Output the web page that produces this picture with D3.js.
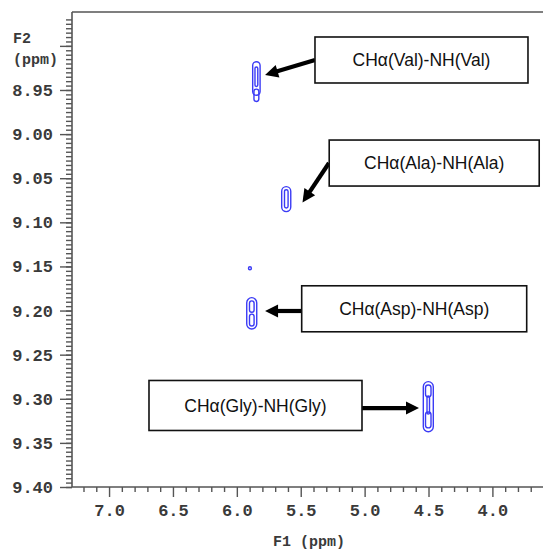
<!DOCTYPE html>
<html>
<head>
<meta charset="utf-8">
<script src="https://cdn.jsdelivr.net/npm/d3@7"></script>
<style>
  html, body { margin: 0; padding: 0; background: #fff; }
  svg { display: block; }
</style>
</head>
<body>
<svg id="chart" width="543" height="550"></svg>
<script>
// ---------------- DATA ----------------
// Axis ranges (ppm)
const f1Domain = [7.29, 3.604];
const f2Domain = [8.8616, 9.40];
const f1MajorTicks = [7.0, 6.5, 6.0, 5.5, 5.0, 4.5, 4.0];
const f1MinorTicks = [7.2, 7.1, 6.9, 6.8, 6.7, 6.6, 6.4, 6.3, 6.2, 6.1, 5.9, 5.8, 5.7, 5.6, 5.4, 5.3, 5.2, 5.1,
                      4.9, 4.8, 4.7, 4.6, 4.4, 4.3, 4.2, 4.1, 3.9, 3.8, 3.7];
const f2MajorTicks = [8.90, 8.95, 9.00, 9.05, 9.10, 9.15, 9.20, 9.25, 9.30, 9.35, 9.40];
const f2TickLabels = ["", "8.95", "9.00", "9.05", "9.10", "9.15", "9.20", "9.25", "9.30", "9.35", "9.40"];
const f2MinorStep = 0.005;
const f2MinorStart = 8.870;

// Contour levels, each a capsule: [F1 left, F1 right, F2 top, F2 bottom] in ppm
const valContours = [
  [5.876, 5.818, 8.918, 8.956],
  [5.866, 5.828, 8.949, 8.963],
  [5.858, 5.836, 8.924, 8.946]
];
const alaContours = [
  [5.649, 5.578, 9.0595, 9.0879],
  [5.627, 5.599, 9.0630, 9.0837]
];
const aspContours = [
  [5.9225, 5.8443, 9.1854, 9.2209],
  [5.901, 5.865, 9.1890, 9.2020],
  [5.901, 5.865, 9.2040, 9.2175]
];
const smallPeak = [
  [5.909, 5.886, 9.1503, 9.1537]
];
const glyContours = [
  [4.5407, 4.4625, 9.2806, 9.3373],
  [4.5235, 4.4804, 9.2844, 9.2980],
  [4.5117, 4.4922, 9.2968, 9.3172],
  [4.5235, 4.4804, 9.3150, 9.3330]
];

// Annotations: label, box centre (ppm), arrow tail and arrow tip (ppm)
const annLabels = ["CHα(Val)-NH(Val)", "CHα(Ala)-NH(Ala)", "CHα(Asp)-NH(Asp)", "CHα(Gly)-NH(Gly)"];
const annBoxCentres = [[4.555, 8.916], [4.4554, 9.0328], [4.612, 9.198], [5.854, 9.3076]];
const annArrowTails = [[5.388, 8.916], [5.279, 9.0328], [5.490, 9.2005], [5.020, 9.3105]];
const annArrowTips = [[5.779, 8.933], [5.486, 9.0775], [5.779, 9.2005], [4.5744, 9.3105]];

// ---------------- STYLE ----------------
const W = 543, H = 550;
const plot = { left: 72, right: 543, top: 12, bottom: 487 };
const boxSizes = [[213, 46], [210, 46], [225, 46], [213, 50]];
const contourColor = "#3b3bf5";
const axisColor = "#555";
const monoFont = "'Liberation Mono', 'DejaVu Sans Mono', monospace";
const sansFont = "'Liberation Sans', Arial, Helvetica, sans-serif";

// ---------------- DRAW ----------------
const svg = d3.select("#chart");
const x = d3.scaleLinear().domain(f1Domain).range([plot.left, plot.right]);
const y = d3.scaleLinear().domain(f2Domain).range([plot.top, plot.bottom]);

// Frame: top border
svg.append("line")
  .attr("x1", plot.left).attr("x2", plot.right)
  .attr("y1", plot.top).attr("y2", plot.top)
  .attr("stroke", axisColor).attr("stroke-width", 1.6);

// Y axis (left) minor ticks
const f2Minor = d3.range(f2MinorStart, 9.4 + 1e-9, f2MinorStep);
const yMinor = svg.append("g").attr("transform", `translate(${plot.left},0)`)
  .call(d3.axisLeft(y).tickValues(f2Minor).tickSize(6).tickFormat(""));
// Y axis major
const yMajor = svg.append("g").attr("transform", `translate(${plot.left},0)`)
  .call(d3.axisLeft(y).tickValues(f2MajorTicks).tickSize(12).tickPadding(7)
    .tickFormat((d, i) => f2TickLabels[i]));

// X axis (bottom)
const xMinor = svg.append("g").attr("transform", `translate(0,${plot.bottom})`)
  .call(d3.axisBottom(x).tickValues(f1MinorTicks).tickSize(5).tickFormat(""));
const xMajor = svg.append("g").attr("transform", `translate(0,${plot.bottom})`)
  .call(d3.axisBottom(x).tickValues(f1MajorTicks).tickSize(10).tickPadding(7)
    .tickFormat(d3.format(".1f")));

[yMinor, yMajor, xMinor, xMajor].forEach(g => {
  g.select(".domain").remove();
  g.selectAll(".tick line").attr("stroke", axisColor).attr("stroke-width", 1.4);
  g.selectAll(".tick text")
    .attr("fill", "#3a3a3a")
    .style("font-family", monoFont)
    .style("font-weight", "bold")
    .style("font-size", "17px");
});

// axis lines
svg.append("line")
  .attr("x1", plot.left).attr("x2", plot.left)
  .attr("y1", plot.top).attr("y2", plot.bottom)
  .attr("stroke", axisColor).attr("stroke-width", 1.6);
svg.append("line")
  .attr("x1", plot.left).attr("x2", plot.right)
  .attr("y1", plot.bottom).attr("y2", plot.bottom)
  .attr("stroke", axisColor).attr("stroke-width", 1.6);

// axis titles
const titleStyle = s => s.attr("fill", "#3a3a3a")
  .style("font-family", monoFont).style("font-weight", "bold").style("font-size", "15px");
svg.append("text").attr("x", 13).attr("y", 43).text("F2").call(titleStyle);
svg.append("text").attr("x", 13).attr("y", 64).text("(ppm)").call(titleStyle);
svg.append("text").attr("x", 309).attr("y", 546).attr("text-anchor", "middle")
  .text("F1 (ppm)").call(titleStyle);

// Contours
const allContours = [valContours, alaContours, aspContours, smallPeak, glyContours];
const cg = svg.append("g");
allContours.forEach(peak => {
  cg.selectAll(null).data(peak).enter().append("rect")
    .attr("x", d => Math.min(x(d[0]), x(d[1])))
    .attr("y", d => y(d[2]))
    .attr("width", d => Math.abs(x(d[1]) - x(d[0])))
    .attr("height", d => y(d[3]) - y(d[2]))
    .attr("rx", d => Math.abs(x(d[1]) - x(d[0])) / 2)
    .attr("ry", d => Math.min(Math.abs(x(d[1]) - x(d[0])) / 2, (y(d[3]) - y(d[2])) / 2))
    .attr("fill", "none")
    .attr("stroke", contourColor)
    .attr("stroke-width", 1.4);
});

// Annotation boxes
const ag = svg.append("g");
annLabels.forEach((lab, i) => {
  const cx = x(annBoxCentres[i][0]), cy = y(annBoxCentres[i][1]);
  const [bw, bh] = boxSizes[i];

  // arrow (drawn first, box on top)
  const x1 = x(annArrowTails[i][0]), y1 = y(annArrowTails[i][1]);
  const x2 = x(annArrowTips[i][0]), y2 = y(annArrowTips[i][1]);
  const ang = Math.atan2(y2 - y1, x2 - x1);
  const headLen = 13, headHalf = 6.5;
  const bx = x2 - headLen * Math.cos(ang), by = y2 - headLen * Math.sin(ang);
  ag.append("line")
    .attr("x1", x1).attr("y1", y1).attr("x2", bx + 2 * Math.cos(ang)).attr("y2", by + 2 * Math.sin(ang))
    .attr("stroke", "#000").attr("stroke-width", 4.2);
  const px = -Math.sin(ang), py = Math.cos(ang);
  ag.append("path")
    .attr("d", d3.line()([[x2, y2], [bx + headHalf * px, by + headHalf * py], [bx - headHalf * px, by - headHalf * py]]) + "Z")
    .attr("fill", "#000");

  ag.append("rect")
    .attr("x", cx - bw / 2).attr("y", cy - bh / 2)
    .attr("width", bw).attr("height", bh)
    .attr("fill", "#fff").attr("stroke", "#111").attr("stroke-width", 1.6);
  ag.append("text")
    .attr("x", cx).attr("y", cy).attr("dy", "0.36em")
    .attr("text-anchor", "middle")
    .style("font-family", sansFont).style("font-size", "17.5px")
    .attr("fill", "#111")
    .text(lab);
});
</script>
</body>
</html>
